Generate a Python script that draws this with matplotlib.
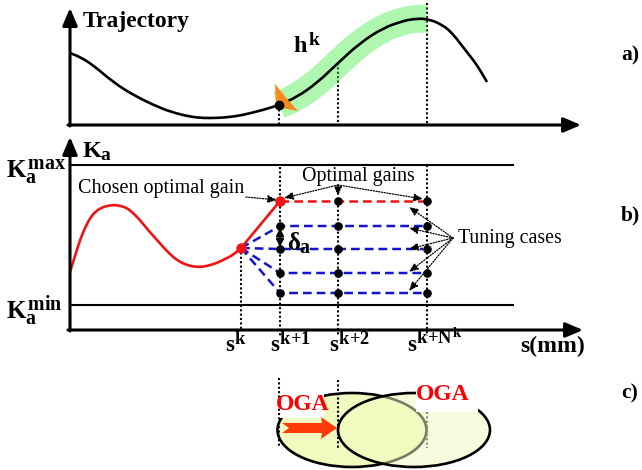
import matplotlib
matplotlib.use('Agg')
import matplotlib.pyplot as plt
import matplotlib._mathtext as mathtext_internal
from matplotlib.patches import Polygon, Ellipse, Rectangle, PathPatch
from matplotlib.path import Path

plt.rcParams['font.family'] = ['Liberation Serif', 'DejaVu Serif']
plt.rcParams['mathtext.fontset'] = 'custom'
plt.rcParams['mathtext.rm'] = 'Liberation Serif:bold'
plt.rcParams['mathtext.it'] = 'Liberation Serif:bold'
plt.rcParams['mathtext.bf'] = 'Liberation Serif:bold'
# scripts in the original are drawn larger than TeX's default 0.7
mathtext_internal.SHRINK_FACTOR = 0.8

# ---- data (diagram units = pixels, y downward) ----
# a) trajectory
traj_s = [70, 80, 93, 113, 133, 160, 175, 187, 200, 217, 230, 243, 263, 279,
          297, 317, 338, 360, 383, 403, 413, 427, 443, 453, 463, 470, 477, 487]
traj_h = [53, 57, 65, 82, 95, 108, 113, 116, 118, 118, 117, 115, 110, 105,
          97, 83, 63, 43, 28, 21, 19, 18.5, 25, 34, 47, 56, 65, 82]
# b) applied gain history up to s^k
gain_s = [70, 75, 80, 85, 90, 96, 103, 109, 115, 121, 127, 133, 140, 148, 157, 165,
          173, 180, 187, 193, 200, 207, 217, 225, 233, 241]
gain_k = [272, 256, 240, 228, 218, 211, 207, 205.5, 205, 206, 208, 213, 220, 230, 240, 249,
          257, 262, 265, 266.5, 267, 266, 263, 259, 255, 248]
# prediction grid
s_k, s_k1, s_k2, s_kN = 241, 280, 338, 427
grid_s = [s_k1, s_k2, s_kN]
opt_level = 201
tuning_levels = [226, 249, 273, 293]
K_max, K_min = 165, 305

fig = plt.figure(figsize=(6.42, 4.70), dpi=100)
ax = fig.add_axes([0, 0, 1, 1])
ax.set_xlim(0, 642)
ax.set_ylim(470, 0)
ax.axis('off')
fig.patch.set_facecolor('white')

BLUE = '#1414cc'
RED = '#f01414'
DOT = (0, (1, 1.1))


def smooth(xs, ys):
    # quadratic bezier through midpoints of the read points
    pts = list(zip(xs, ys))
    verts = [pts[0], ((pts[0][0] + pts[1][0]) / 2, (pts[0][1] + pts[1][1]) / 2)]
    codes = [Path.MOVETO, Path.LINETO]
    for i in range(1, len(pts) - 1):
        mid = ((pts[i][0] + pts[i + 1][0]) / 2, (pts[i][1] + pts[i + 1][1]) / 2)
        verts += [pts[i], mid]
        codes += [Path.CURVE3, Path.CURVE3]
    verts.append(pts[-1])
    codes.append(Path.LINETO)
    return Path(verts, codes)


def axis_arrow(x1, y1, x2, y2):
    ax.annotate('', xy=(x2, y2), xytext=(x1, y1),
                arrowprops=dict(arrowstyle='-|>,head_length=0.75,head_width=0.32',
                                mutation_scale=14, lw=2.2, color='black',
                                shrinkA=0, shrinkB=0), zorder=5)


def dot_arrow(x1, y1, x2, y2):
    ax.annotate('', xy=(x2, y2), xytext=(x1, y1),
                arrowprops=dict(arrowstyle='-|>,head_length=0.6,head_width=0.25',
                                mutation_scale=9, lw=0.9, ls=(0, (1, 1.2)), color='black',
                                shrinkA=0, shrinkB=0), zorder=6)


def vdot(x, y1, y2, color='black'):
    ax.plot([x, x], [y1, y2], color=color, lw=1.5, ls=DOT, zorder=1)


# ================= a) =================
axis_arrow(70, 126, 70, 8)
axis_arrow(68, 125, 581, 125)
ax.text(83, 27, 'Trajectory', fontsize=17, fontweight='bold', va='baseline')
vdot(279, 105, 125)
vdot(338, 63, 125)
vdot(427, 3, 125)
band = [(s, h) for s, h in zip(traj_s, traj_h) if 279 <= s <= 427]
ax.add_patch(PathPatch(smooth([p[0] for p in band], [p[1] for p in band]), fill=False,
                       edgecolor=(0.22, 0.93, 0.22, 0.4), lw=20, capstyle='butt', zorder=2))
ax.add_patch(PathPatch(smooth(traj_s, traj_h), fill=False, edgecolor='black', lw=1.9, zorder=3))
ax.add_patch(Polygon([(275, 84), (276, 107), (298, 111), (288, 100)], closed=True,
                     facecolor='#f68b1f', edgecolor='none', zorder=3.5))
ax.plot([279], [105], 'o', color='black', ms=6, zorder=4)
ax.text(293, 53, r'$h^k$', fontsize=17.5, va='baseline')
ax.text(621, 55, 'a)', fontsize=15.5, fontweight='bold', va='center')

# ================= b) =================
axis_arrow(70, 331, 70, 137)
axis_arrow(68, 330, 583, 330)
ax.plot([70, 513], [K_max, K_max], color='black', lw=1.5, zorder=2)
ax.plot([70, 513], [K_min, K_min], color='black', lw=1.5, zorder=2)
ax.text(82, 158, r'$K_a$', fontsize=17.5, va='baseline')
ax.text(6, 178, r'$K_a^{max}$', fontsize=18, va='baseline')
ax.text(6, 318, r'$K_a^{min}$', fontsize=18, va='baseline')

vdot(s_k, 248, 330)
vdot(s_k1, 167, 336)
vdot(s_k2, 201, 336)
vdot(s_kN, 165, 336)

ax.add_patch(PathPatch(smooth(gain_s, gain_k), fill=False, edgecolor=RED, lw=1.9, zorder=3))
ax.plot([s_k, s_k1], [gain_k[-1], opt_level], color=RED, lw=1.9, zorder=3)
ax.plot([s_k1, s_kN - 4], [opt_level, opt_level], color=RED, lw=1.8, ls=(0, (3.5, 2)), zorder=3)
for lv in tuning_levels:
    ax.plot([s_k, s_k1, s_kN - 4], [gain_k[-1], lv, lv], color=BLUE, lw=1.8,
            ls=(0, (3.5, 2)), zorder=3)
for gx in grid_s:
    lvls = tuning_levels if gx == s_k1 else [opt_level] + tuning_levels
    ax.plot([gx] * len(lvls), lvls, 'o', color='black', ms=5.2, zorder=4)
ax.plot([s_k, s_k1], [gain_k[-1], opt_level], 'o', color=RED, ms=6.5, zorder=5)

ax.annotate('', xy=(s_k1, 247), xytext=(s_k1, 228),
            arrowprops=dict(arrowstyle='<|-|>,head_length=0.5,head_width=0.25',
                            mutation_scale=9, lw=1.4, color='black', shrinkA=0, shrinkB=0),
            zorder=5)
ax.text(287, 250, r'$\delta_a$', fontsize=18, va='baseline')

ax.text(78, 189, 'Chosen optimal gain', fontsize=14.5, va='center')
dot_arrow(246, 197, 277, 200)
ax.text(358, 176, 'Optimal gains', fontsize=14.3, va='center', ha='center')
dot_arrow(338, 185, 284, 198)
dot_arrow(338, 185, 338, 196)
dot_arrow(338, 185, 423, 199)
ax.text(458, 238, 'Tuning cases', fontsize=14.3, va='center')
for ty in [207, 228, 249, 272, 291]:
    dot_arrow(453, 238, 409, ty)

ax.text(225, 352, r'$s^k$', fontsize=16.5, va='baseline')
ax.text(270, 352, r'$s^{k{+}1}$', fontsize=16.5, va='baseline')
ax.text(329, 352, r'$s^{k{+}2}$', fontsize=16.5, va='baseline')
ax.text(407, 352, r'$s^{k{+}N^k}$', fontsize=16.5, va='baseline')
ax.text(520, 352, 's(mm)', fontsize=17, fontweight='bold', va='baseline')
ax.text(621, 215, 'b)', fontsize=15.5, fontweight='bold', va='center')

# ================= c) =================
YEL = (0.953, 0.98, 0.753)
ax.add_patch(Ellipse((352, 430), 149, 74, facecolor=YEL, edgecolor='black', lw=1.9, zorder=2))
ax.add_patch(Ellipse((414, 430), 152, 74, facecolor=YEL + (0.5,), edgecolor='black', lw=1.9,
                     zorder=2.2))
ax.add_patch(Rectangle((276, 391), 48, 27, facecolor='white', edgecolor='none', zorder=2.5))
ax.add_patch(Rectangle((416, 380), 62, 32, facecolor='white', edgecolor='none', zorder=2.5))
ax.plot([279, 279], [378, 447], color='black', lw=1.5, ls=DOT, zorder=3)
ax.plot([338, 338], [380, 448], color='black', lw=1.5, ls=DOT, zorder=3)
ax.plot([427, 427], [412, 448], color='#8a8a80', lw=1.5, ls=DOT, zorder=3)
ax.add_patch(Polygon([(282, 423), (322, 423), (321, 417), (337, 428), (321, 439), (322, 433),
                      (282, 433), (289, 428)], closed=True, facecolor='#ff3a0a',
                     edgecolor='none', zorder=4))
ax.text(303, 405, 'OGA', fontsize=17, fontweight='bold', color='#ff0000',
        ha='center', va='center', zorder=5)
ax.text(443, 394, 'OGA', fontsize=17, fontweight='bold', color='#ff0000',
        ha='center', va='center', zorder=5)
ax.text(621, 393, 'c)', fontsize=15.5, fontweight='bold', va='center')

plt.savefig('out.png', dpi=100, facecolor='white')
